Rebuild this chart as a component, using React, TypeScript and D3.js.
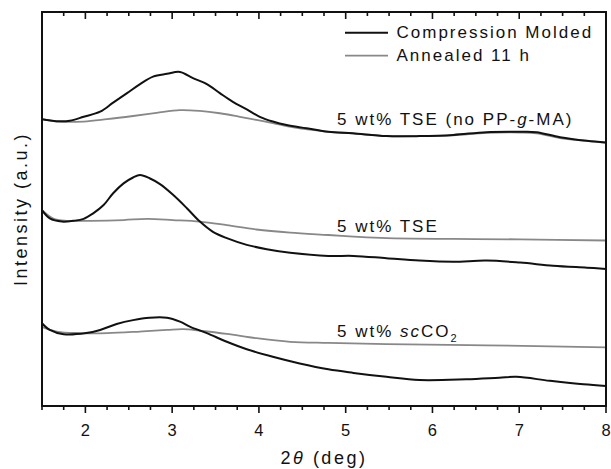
import React from "react";
import * as d3 from "d3";

// 2θ (deg) values and intensities (a.u.)
const cm1X = [1.5, 1.67, 1.82, 1.98, 2.17, 2.32, 2.48, 2.63, 2.78, 2.94, 3.09, 3.24, 3.4, 3.55, 3.7, 3.86, 4.01, 4.16, 4.32, 4.55, 4.8, 5.08, 5.47, 5.85, 6.24, 6.62, 7.01, 7.2, 7.47, 7.78, 8.0];
const cm1Y = [72.8, 72.3, 72.4, 73.4, 74.7, 77.0, 79.4, 81.7, 83.6, 84.3, 84.8, 83.2, 81.7, 79.4, 77.2, 75.3, 73.4, 72.2, 71.3, 70.5, 69.6, 69.2, 68.5, 68.5, 68.8, 69.5, 69.6, 69.5, 68.2, 67.3, 66.9];

const an1X = [1.5, 1.67, 1.98, 2.25, 2.55, 2.82, 3.09, 3.32, 3.55, 3.78, 3.97, 4.16, 4.4, 4.8, 5.08, 5.47, 5.85, 6.24, 6.62, 7.01, 7.2, 7.47, 7.78, 8.0];
const an1Y = [72.8, 72.2, 72.2, 72.8, 73.6, 74.4, 75.1, 74.9, 74.3, 73.4, 72.6, 71.8, 70.7, 69.6, 69.2, 68.5, 68.5, 68.7, 69.3, 69.4, 69.2, 68.0, 67.3, 66.8];

const cm2X = [1.5, 1.59, 1.73, 1.86, 1.98, 2.09, 2.21, 2.32, 2.44, 2.55, 2.63, 2.74, 2.86, 3.01, 3.17, 3.32, 3.47, 3.63, 3.86, 4.09, 4.36, 4.8, 5.09, 5.47, 5.85, 6.24, 6.62, 7.01, 7.39, 7.78, 8.0];
const cm2Y = [49.7, 47.6, 46.8, 47.0, 47.5, 48.9, 51.0, 54.0, 56.5, 58.0, 58.6, 57.8, 56.3, 53.6, 50.2, 46.8, 44.2, 42.6, 40.9, 39.8, 38.9, 38.1, 38.1, 37.5, 36.9, 36.6, 36.9, 36.4, 35.6, 35.1, 34.8];

const an2X = [1.5, 1.63, 1.78, 2.05, 2.44, 2.71, 3.01, 3.32, 3.63, 3.97, 4.36, 4.8, 5.09, 5.47, 6.24, 7.01, 8.0];
const an2Y = [49.7, 47.6, 47.0, 47.0, 47.2, 47.5, 47.2, 46.8, 45.9, 44.8, 44.0, 43.4, 43.0, 42.6, 42.4, 42.3, 42.0];

const cm3X = [1.5, 1.59, 1.75, 2.01, 2.17, 2.36, 2.55, 2.74, 2.94, 3.09, 3.21, 3.4, 3.63, 3.86, 4.16, 4.47, 4.8, 5.09, 5.47, 5.85, 6.39, 6.77, 6.97, 7.35, 7.74, 8.0];
const cm3Y = [21.0, 19.3, 18.2, 18.5, 19.3, 20.8, 21.8, 22.4, 22.4, 21.4, 20.1, 18.5, 16.3, 14.4, 12.5, 10.8, 9.3, 8.4, 7.4, 6.6, 6.8, 7.2, 7.4, 6.4, 5.5, 5.1];

const an3X = [1.5, 1.67, 1.94, 2.25, 2.63, 2.94, 3.13, 3.32, 3.63, 3.97, 4.36, 4.8, 5.47, 6.62, 8.0];
const an3Y = [20.1, 18.9, 18.5, 18.5, 18.9, 19.3, 19.5, 19.1, 18.3, 17.2, 16.3, 16.0, 15.7, 15.4, 14.9];

const xTickLabels = [2, 3, 4, 5, 6, 7, 8];
const legendLabels = ["Compression Molded", "Annealed 11 h"];
const curveLabelX = [4.9, 4.9, 4.9];
const curveLabelY = [71.3, 44.1, 17.6];

const BLACK = "#111";
const GRAY = "#888";
const FONT = "'Liberation Sans', Arial, Helvetica, sans-serif";

export default function App() {
  const W = 611, H = 469;
  const m = { left: 42, right: 5, top: 12, bottom: 63 };
  const x = d3.scaleLinear().domain([1.5, 8]).range([m.left, W - m.right]);
  const y = d3.scaleLinear().domain([0, 100]).range([H - m.bottom, m.top]);
  const line = d3.line<[number, number]>().x(d => x(d[0])).y(d => y(d[1])).curve(d3.curveCatmullRom.alpha(0.5));
  const zip = (a: number[], b: number[]) => a.map((v, i) => [v, b[i]] as [number, number]);

  const series = [
    { d: zip(an1X, an1Y), c: GRAY, w: 1.8 },
    { d: zip(cm1X, cm1Y), c: BLACK, w: 2 },
    { d: zip(an2X, an2Y), c: GRAY, w: 1.8 },
    { d: zip(cm2X, cm2Y), c: BLACK, w: 2 },
    { d: zip(an3X, an3Y), c: GRAY, w: 1.8 },
    { d: zip(cm3X, cm3Y), c: BLACK, w: 2 },
  ];

  const ticks = d3.range(1.5, 8.001, 0.25);
  const y0 = H - m.bottom;
  const yTop = m.top;

  return (
    <svg width={W} height={H} style={{ position: "absolute", left: 0, top: 0, background: "#fff" }} fontFamily={FONT}>
      <rect width={W} height={H} fill="#fff" />
      {series.map((s, i) => (
        <path key={i} d={line(s.d) || ""} fill="none" stroke={s.c} strokeWidth={s.w} strokeLinejoin="round" />
      ))}
      {/* frame */}
      <rect x={x(1.5)} y={yTop} width={x(8) - x(1.5)} height={y0 - yTop} fill="none" stroke="#111" strokeWidth={2} />
      {/* ticks */}
      {ticks.map((t, i) => {
        const major = Math.abs(t - Math.round(t)) < 1e-6;
        const len = major ? 7 : 4;
        return (
          <g key={i}>
            <line x1={x(t)} x2={x(t)} y1={y0} y2={y0 + len} stroke="#111" strokeWidth={1.6} />
            <line x1={x(t)} x2={x(t)} y1={yTop} y2={yTop + len} stroke="#111" strokeWidth={1.6} />
          </g>
        );
      })}
      {xTickLabels.map(t => (
        <text key={t} x={x(t)} y={436} textAnchor="middle" fontSize={16.5} fill="#111">{t}</text>
      ))}
      <text x={(x(1.5) + x(8)) / 2} y={464} textAnchor="middle" fontSize={18} letterSpacing={2.5} fill="#111">
        2<tspan fontStyle="italic">θ</tspan> (deg)
      </text>
      <text transform={`translate(27,${(yTop + y0) / 2}) rotate(-90)`} textAnchor="middle" fontSize={18} letterSpacing={2.5} fill="#111">
        Intensity (a.u.)
      </text>
      {/* legend */}
      {legendLabels.map((l, i) => (
        <g key={l}>
          <line x1={345} x2={388} y1={32.7 + i * 23} y2={32.7 + i * 23} stroke={i === 0 ? BLACK : GRAY} strokeWidth={i === 0 ? 2 : 1.8} />
          <text x={396.5} y={37.8 + i * 23.2} fontSize={17} letterSpacing={2} fill="#111">{l}</text>
        </g>
      ))}
      {/* curve labels */}
      <text x={x(curveLabelX[0])} y={y(curveLabelY[0])} fontSize={17} letterSpacing={2} fill="#111">
        5 wt% TSE (no PP-<tspan fontStyle="italic">g</tspan>-MA)
      </text>
      <text x={x(curveLabelX[1])} y={y(curveLabelY[1])} fontSize={17} letterSpacing={2} fill="#111">
        5 wt% TSE
      </text>
      <text x={x(curveLabelX[2])} y={y(curveLabelY[2])} fontSize={17} letterSpacing={2} fill="#111">
        5 wt% <tspan fontStyle="italic">sc</tspan>CO<tspan fontSize={11} dy={5}>2</tspan>
      </text>
    </svg>
  );
}
